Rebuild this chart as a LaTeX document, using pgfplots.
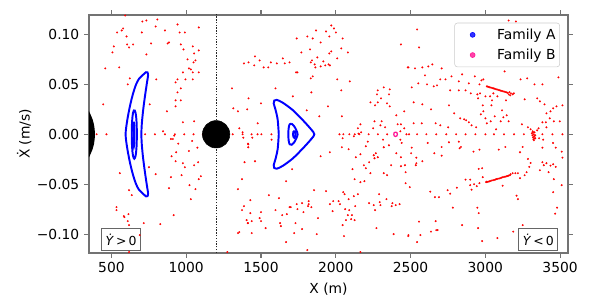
\documentclass[border=0pt]{standalone}
\usepackage{fontspec}
\setmainfont{DejaVu Sans}
\usepackage{pgfplots}
\pgfplotsset{compat=1.18}
\definecolor{famB}{RGB}{255,20,147}
\pgfplotstableread[row sep=\\]{
x y\\
592 0.119\\ 707 0.113\\ 734 0.114\\ 807 0.115\\ 942 0.110\\ 1084 0.107\\ 578 0.106\\ 569 0.104\\ 538 0.102\\ 703 0.102\\
796 0.108\\ 858 0.104\\ 956 0.102\\ 991 0.102\\ 601 0.098\\ 516 0.088\\ 605 0.090\\ 618 0.087\\ 645 0.090\\ 765 0.091\\
885 0.092\\ 876 0.091\\ 964 0.090\\ 1044 0.088\\ 982 0.085\\ 1084 0.084\\ 507 0.082\\ 734 0.080\\ 1009 0.075\\ 1053 0.081\\
1062 0.074\\ 1049 0.072\\ 459 0.066\\ 552 0.067\\ 1018 0.066\\ 1031 0.065\\ 978 0.062\\ 1044 0.062\\ 1084 0.062\\ 623 0.056\\
800 0.055\\ 942 0.055\\ 995 0.055\\ 1044 0.055\\ 609 0.050\\ 929 0.052\\ 964 0.046\\ 942 0.042\\ 445 0.030\\ 756 0.030\\
929 0.034\\ 964 0.034\\ 929 0.028\\ 871 0.023\\ 978 0.012\\ 1053 0.013\\ 845 0.003\\ 1306 0.046\\ 1386 0.071\\ 1417 0.072\\
1315 0.026\\ 1346 0.023\\ 1408 0.025\\ 1355 0.006\\ 1417 0.036\\ 1377 0.002\\
401 0\\ 467 0\\ 725 0\\ 791 0\\ 858 0\\ 924 0\\ 987 0\\ 1049 0\\ 1111 0\\ 1311 0\\ 1377 0\\
1437 0\\ 1477 0\\ 1503 0\\ 1570 0\\ 2025 0\\ 2051 0\\ 2091 0\\ 2127 0\\ 2158 0\\ 2220 0\\ 2282 0\\ 2344 0\\ 2473 0\\
2490 0\\ 2544 0\\ 2606 0\\ 2672 0\\ 2739 0\\ 2805 0\\ 2868 0\\ 2934 0\\ 3001 0\\ 3058 0\\ 3125 0\\ 3192 0\\ 3258 0\\ 3382 0\\ 3449 0\\ 3516 0\\
920 -0.0014\\ 898 -0.0047\\ 911 -0.0047\\ 1040 -0.0067\\ 947 -0.0094\\ 1075 -0.0134\\ 1018 -0.0167\\ 933 -0.018\\ 902 -0.022\\ 929 -0.027\\
978 -0.029\\ 991 -0.033\\ 1053 -0.031\\ 1080 -0.028\\ 751 -0.033\\ 556 -0.039\\ 796 -0.040\\ 898 -0.043\\ 969 -0.041\\ 1098 -0.042\\
1084 -0.045\\ 885 -0.054\\ 1022 -0.051\\ 1062 -0.055\\ 618 -0.056\\ 636 -0.061\\ 1031 -0.065\\ 534 -0.073\\ 534 -0.076\\ 916 -0.081\\
614 -0.080\\ 583 -0.082\\ 587 -0.083\\ 609 -0.087\\ 618 -0.091\\ 716 -0.089\\ 827 -0.090\\ 689 -0.101\\ 618 -0.118\\ 1390 -0.028\\
1373 -0.045\\ 1346 -0.055\\ 1386 -0.072\\ 1373 -0.076\\ 1404 -0.086\\ 1413 -0.089\\ 1355 -0.098\\ 1346 -0.099\\ 1413 -0.0094\\ 1382 -0.0034\\ 1275 -0.118\\
1442 -0.0034\\ 1415 -0.010\\ 1415 -0.013\\ 1571 -0.0054\\ 1460 -0.027\\ 1899 -0.022\\ 1961 -0.018\\ 1708 -0.035\\ 1668 -0.047\\ 2046 -0.004\\
2121 -0.002\\ 2152 0.0006\\ 2214 -0.0074\\ 2201 -0.012\\ 2086 -0.015\\ 2041 -0.013\\ 2134 -0.023\\ 2165 -0.020\\ 2254 -0.021\\ 2268 -0.019\\
2281 -0.023\\ 2259 -0.024\\ 2223 -0.028\\ 2188 -0.031\\ 2201 -0.034\\ 2112 -0.035\\ 2232 -0.039\\ 2316 -0.0054\\ 2356 -0.011\\ 2321 -0.013\\
2405 -0.019\\ 2436 -0.023\\ 2370 -0.031\\ 2436 -0.032\\ 2463 -0.031\\ 2321 -0.039\\ 2343 -0.041\\ 2432 -0.0054\\ 2441 -0.0087\\ 2126 -0.045\\
2165 -0.048\\ 2192 -0.047\\ 2467 -0.049\\ 1855 -0.056\\ 1935 -0.057\\ 2050 -0.058\\ 2059 -0.060\\ 2121 -0.062\\ 2148 -0.060\\ 2086 -0.065\\
2290 -0.060\\ 2339 -0.065\\ 2379 -0.069\\ 2374 -0.072\\ 2401 -0.071\\ 2427 -0.070\\ 2223 -0.069\\ 2254 -0.071\\ 2263 -0.076\\ 2294 -0.068\\
2299 -0.071\\ 1553 -0.061\\ 1620 -0.064\\ 1429 -0.066\\ 1597 -0.076\\ 1642 -0.081\\ 1673 -0.080\\ 1691 -0.073\\ 1699 -0.073\\ 1739 -0.070\\
1775 -0.069\\ 1744 -0.075\\ 1784 -0.078\\ 1819 -0.067\\ 1815 -0.072\\ 1837 -0.073\\ 1819 -0.070\\ 1961 -0.070\\ 1983 -0.067\\ 2019 -0.067\\
2028 -0.070\\ 1979 -0.077\\ 2063 -0.075\\ 2090 -0.076\\ 2130 -0.072\\ 2081 -0.081\\ 2108 -0.081\\ 2068 -0.086\\ 2103 -0.085\\ 2126 -0.086\\
2046 -0.091\\ 1881 -0.084\\ 1429 -0.079\\ 1500 -0.078\\ 1491 -0.084\\ 1500 -0.087\\ 1438 -0.087\\ 1411 -0.089\\ 1628 -0.089\\ 1633 -0.092\\
1731 -0.089\\ 1775 -0.095\\ 1531 -0.094\\ 1722 -0.099\\ 1873 -0.100\\ 1438 -0.099\\ 2055 -0.102\\ 1668 -0.108\\ 1810 -0.116\\ 2165 -0.118\\
2272 -0.094\\ 2387 -0.100\\ 2485 -0.102\\ 2467 -0.038\\
1970 0.109\\ 1988 0.106\\ 2001 0.102\\ 1868 0.104\\ 1935 0.103\\ 1957 0.098\\ 1810 0.098\\ 1846 0.096\\ 1739 0.096\\ 2046 0.096\\
1899 0.092\\ 1828 0.085\\ 1770 0.082\\ 1970 0.083\\ 1957 0.081\\ 2037 0.086\\ 2081 0.082\\ 1460 0.078\\ 1646 0.076\\ 1877 0.077\\
2010 0.076\\ 1491 0.074\\ 1566 0.072\\ 1606 0.071\\ 1659 0.071\\ 1691 0.072\\ 1841 0.074\\ 1833 0.072\\ 1917 0.073\\ 1859 0.070\\
1864 0.067\\ 1899 0.068\\ 1930 0.069\\ 1952 0.070\\ 1961 0.069\\ 1455 0.069\\ 1518 0.067\\ 1549 0.067\\ 1735 0.062\\ 1744 0.062\\
1833 0.056\\ 1846 0.058\\ 2010 0.055\\ 2094 0.053\\ 2436 0.090\\ 2481 0.067\\ 1597 0.046\\ 1837 0.042\\ 2037 0.044\\ 1713 0.038\\
1500 0.031\\ 1948 0.028\\ 1806 0.024\\ 1890 0.018\\ 2041 0.018\\ 1478 0.011\\ 2321 0.047\\ 2361 0.045\\ 2281 0.044\\ 2356 0.040\\
2276 0.040\\ 2303 0.036\\ 2281 0.032\\ 2232 0.032\\ 2263 0.029\\ 2343 0.031\\ 2361 0.028\\ 2405 0.019\\ 2458 0.023\\ 2259 0.013\\
2307 0.013\\ 2299 0.009\\ 2330 0.007\\ 2414 0.010\\ 2436 0.010\\ 2165 0.010\\ 2148 0.006\\ 2170 0.002\\ 2250 0.006\\ 2432 0.003\\ 2458 0.006\\
2544 0.105\\ 2557 0.087\\ 3156 0.114\\ 3205 0.113\\ 2486 0.067\\ 2530 0.066\\ 2579 0.067\\ 2619 0.068\\ 2646 0.070\\ 2708 0.066\\
2597 0.059\\ 2699 0.055\\ 2734 0.055\\ 2774 0.058\\ 2845 0.060\\ 2508 0.047\\ 2552 0.051\\ 2610 0.050\\ 2655 0.048\\ 2677 0.049\\
2823 0.053\\ 2890 0.051\\ 2930 0.058\\ 2974 0.054\\ 2987 0.055\\ 2961 0.050\\ 3129 0.063\\ 3236 0.055\\ 3280 0.056\\ 3329 0.050\\
3382 0.050\\ 3489 0.057\\ 2765 0.044\\ 2823 0.044\\ 2868 0.044\\ 2903 0.041\\ 2947 0.040\\ 2965 0.041\\ 3001 0.038\\ 3032 0.038\\
3054 0.041\\ 3081 0.038\\ 3138 0.034\\ 3183 0.040\\ 3191 0.041\\ 3045 0.034\\ 2952 0.036\\ 2521 0.032\\ 2579 0.030\\ 2637 0.025\\
2757 0.029\\ 2792 0.021\\ 2832 0.016\\ 2859 0.015\\ 2872 0.014\\ 2890 0.012\\ 2983 0.029\\ 2987 0.023\\ 2970 0.020\\ 3041 0.029\\
3001 0.016\\ 3010 0.011\\ 3036 0.013\\ 3063 0.018\\ 3103 0.013\\ 3121 0.017\\ 3156 0.013\\ 2521 0.011\\ 2575 0.011\\ 2668 0.011\\
2699 0.009\\ 2752 0.007\\ 2908 0.009\\ 2939 0.007\\ 3112 0.024\\ 3143 0.019\\ 3263 0.035\\ 3347 0.036\\ 3365 0.033\\ 3396 0.030\\
3409 0.021\\ 3436 0.023\\ 3454 0.026\\ 3476 0.028\\ 3516 0.029\\ 3431 0.016\\ 3382 0.012\\ 3405 0.012\\ 3458 0.013\\ 3498 0.013\\
3409 0.007\\ 3356 0.006\\ 3347 0.004\\ 3303 0.005\\ 3285 0.007\\ 3072 0.005\\ 3245 0.010\\
3010 0.0480\\ 3016 0.0478\\ 3022 0.0475\\ 3030 0.0471\\ 3038 0.0467\\ 3046 0.0463\\ 3054 0.0460\\ 3062 0.0457\\ 3070 0.0453\\ 3078 0.0449\\
3086 0.0445\\ 3094 0.0441\\ 3102 0.0438\\ 3110 0.0435\\ 3118 0.0431\\ 3126 0.0427\\ 3134 0.0424\\ 3142 0.0420\\ 3150 0.0416\\ 3157 0.0400\\
3162 0.0422\\ 3167 0.0390\\ 3172 0.0410\\
3005 -0.0480\\ 3012 -0.0477\\ 3020 -0.0474\\ 3028 -0.0471\\ 3036 -0.0467\\ 3044 -0.0463\\ 3052 -0.0460\\ 3060 -0.0457\\ 3068 -0.0453\\ 3076 -0.0449\\
3084 -0.0446\\ 3092 -0.0443\\ 3100 -0.0439\\ 3108 -0.0435\\ 3116 -0.0431\\ 3124 -0.0428\\ 3132 -0.0425\\ 3140 -0.0421\\ 3148 -0.0418\\ 3156 -0.0414\\ 3164 -0.0410\\
2508 -0.0134\\ 2504 -0.019\\ 2539 -0.0234\\ 2579 -0.027\\ 2539 -0.029\\ 2535 -0.031\\ 2615 -0.0087\\ 2708 -0.0127\\ 2659 -0.019\\ 2708 -0.0214\\
2757 -0.008\\ 2823 -0.0074\\ 2837 -0.0127\\ 2828 -0.014\\ 2921 -0.0174\\ 2961 -0.0154\\ 3090 -0.0154\\ 3134 -0.0127\\ 3232 -0.018\\ 3250 -0.0127\\
3285 -0.0247\\ 3303 -0.0287\\ 3294 -0.0327\\ 3334 -0.0040\\ 3360 -0.0040\\ 3387 -0.0054\\ 3382 -0.0134\\ 3453 -0.0087\\ 3471 -0.0134\\ 3511 -0.0174\\
3516 -0.0234\\ 3382 -0.028\\ 3391 -0.031\\ 3409 -0.029\\ 3436 -0.0314\\ 3454 -0.030\\ 3471 -0.0327\\ 3365 -0.036\\ 3423 -0.038\\ 3458 -0.045\\
2956 -0.0347\\ 2979 -0.034\\ 2983 -0.043\\ 2899 -0.0454\\ 2868 -0.0454\\ 2899 -0.051\\ 2908 -0.0555\\ 2925 -0.050\\ 2943 -0.052\\ 2961 -0.049\\
2810 -0.0535\\ 2748 -0.056\\ 2765 -0.0595\\ 2632 -0.0575\\ 2663 -0.063\\ 2690 -0.063\\ 2495 -0.053\\ 2783 -0.0735\\ 2947 -0.0735\\ 2956 -0.079\\
2845 -0.091\\ 2952 -0.094\\ 2557 -0.0875\\ 2668 -0.087\\ 2672 -0.096\\ 2681 -0.096\\ 2637 -0.0975\\ 2566 -0.101\\ 2486 -0.101\\ 2544 -0.108\\
2979 -0.107\\ 3081 -0.104\\ 3187 -0.0975\\ 3169 -0.040\\ 3183 -0.039\\ 3201 -0.039\\ 3218 -0.039\\ 3232 -0.044\\ 3263 -0.041\\ 3276 -0.038\\
3209 -0.0615\\ 3218 -0.065\\ 3250 -0.091\\ 3511 -0.051\\ 3454 -0.058\\ 3480 -0.0735\\ 3467 -0.0795\\ 3116 -0.0515\\ 3010 -0.0475\\
3311 0.001\\ 3315 -0.001\\ 3319 -0.003\\ 3324 0\\ 3327 -0.002\\ 3331 -0.004\\ 3319 0.002\\ 3334 -0.001\\ 3322 -0.005\\ 3317 0.003\\ 3325 -0.006\\ 3329 0.002\\
}\reddots
\begin{document}
\begin{tikzpicture}
\begin{axis}[
  at={(0,0)}, anchor=south west,
  scale only axis, width=346.2pt, height=172.0pt,
  xmin=350, xmax=3553, ymin=-0.1189, ymax=0.1195,
  xtick={500,1000,1500,2000,2500,3000,3500},
  xticklabels={500,1000,1500,2000,2500,3000,3500},
  ytick={-0.1,-0.05,0,0.05,0.1},
  yticklabels={−0.10,−0.05,0.00,0.05,0.10},
  tick align=outside, major tick length=3.5pt,
  axis line style={black!55, line width=1pt},
  tick style={black!55, line width=0.8pt},
  ticklabel style={font=\fontsize{10}{12}\selectfont, text=black},
  label style={font=\fontsize{10}{12}\selectfont},
  xlabel={X (m)}, ylabel={Ẋ (m/s)}, ylabel shift=-3pt,
  legend style={at={(1,1)}, anchor=north east, xshift=-5.8pt, yshift=-5.6pt,
    draw=black!20, fill=white, fill opacity=0.8, text opacity=1,
    rounded corners=2pt, inner xsep=1.5pt, inner ysep=2.5pt, row sep=2.5pt,
    nodes={inner sep=1.5pt},
    font=\fontsize{10}{12}\selectfont},
  legend cell align=left,
]
\addplot[red, only marks, mark=*, mark size=0.6pt, mark options={draw=red, fill=red, line width=0.2pt}, forget plot] table[x=x, y=y] {\reddots};
\addplot[black!85, line width=0.4pt, dash pattern=on 1pt off 1pt, forget plot] coordinates {(1200,-0.13) (1200,0.13)};
% Family A, left group
\addplot[blue, line width=1.4pt, smooth, tension=0.55, forget plot] coordinates {
(700,0) (703,0.010) (712,0.024) (726,0.040) (739,0.053) (745,0.0590) (741,0.0620) (731,0.0622) (718,0.0605) (700,0.0580) (684,0.0555) (665,0.0500) (645,0.0410) (625,0.0290) (608,0.0160) (598,0.0060) (595,0)
(598,-0.0060) (608,-0.0160) (625,-0.0290) (645,-0.0410) (665,-0.0500) (684,-0.0555) (700,-0.0580) (718,-0.0605) (731,-0.0622) (741,-0.0620) (745,-0.0590) (739,-0.053) (726,-0.040) (712,-0.024) (703,-0.010) (700,0)};
\addplot[blue, line width=1.4pt, smooth, tension=0.6, forget plot] coordinates {
(653,0.0245) (662,0.0212) (668,0.0123) (670,0) (668,-0.0123) (662,-0.0212) (653,-0.0245) (644,-0.0212) (638,-0.0123) (636,0) (638,0.0123) (644,0.0212) (653,0.0245)};
\addplot[blue, line width=1.4pt, smooth, tension=0.6, forget plot] coordinates {
(650,0.0125) (653,0.0090) (654,0) (653,-0.0090) (650,-0.0125) (647,-0.0090) (646,0) (647,0.0090) (650,0.0125)};
% Family A, right group
\addplot[blue, line width=1.4pt, smooth, tension=0.5, forget plot] coordinates {
(1619,0) (1612,0.0143) (1598,0.0243) (1585,0.0310) (1589,0.0338) (1605,0.0345) (1645,0.0317) (1712,0.0243) (1779,0.0143) (1835,0.0050) (1857,0)
(1835,-0.0050) (1779,-0.0143) (1712,-0.0243) (1645,-0.0317) (1605,-0.0345) (1589,-0.0338) (1585,-0.0310) (1598,-0.0243) (1612,-0.0143) (1619,0)};
\addplot[blue, line width=1.4pt, smooth, tension=0.6, forget plot] coordinates {
(1705,0.0105) (1720,0.0085) (1735,0.0045) (1745,0) (1735,-0.0045) (1720,-0.0085) (1705,-0.0105) (1692,-0.0100) (1685,-0.0060) (1683,0) (1685,0.0060) (1692,0.0100) (1705,0.0105)};
\addplot[blue, line width=1.4pt, smooth, tension=0.6, forget plot] coordinates {
(1723,0.0035) (1729,0.0025) (1732,0) (1729,-0.0025) (1723,-0.0035) (1717,-0.0025) (1714,0) (1717,0.0025) (1723,0.0035)};
% Family B
\addplot[famB, line width=0.9pt, smooth, tension=0.6, forget plot] coordinates {
(2400,0.0022) (2409,0.0016) (2412,0) (2409,-0.0016) (2400,-0.0022) (2391,-0.0016) (2388,0) (2391,0.0016) (2400,0.0022)};
% primaries
\addplot[fill=black, draw=none, forget plot] coordinates {
(350,0.0231) (360,0.0200) (374,0.0150) (383,0.0100) (388,0.0050) (390,0) (388,-0.0050) (383,-0.0100) (374,-0.0150) (360,-0.0200) (350,-0.0231) (350,0.0231)};
\addplot[only marks, mark=*, mark size=9.9pt, mark options={draw=none, fill=black}, forget plot] coordinates {(1200,0)};
\addlegendimage{blue, legend image code/.code={\path[draw=none, fill=none] (0pt,-3pt) rectangle (27.7pt,3pt); \fill[blue] (11.5pt,0pt) circle (1.8pt);}}
\addlegendentry{Family A}
\addlegendimage{famB, legend image code/.code={\path[draw=none, fill=none] (0pt,-3pt) rectangle (27.7pt,3pt); \fill[famB] (11.5pt,0pt) circle (1.8pt);}}
\addlegendentry{Family B}
\node[draw=black!60, line width=0.8pt, fill=white, minimum width=28.2pt, minimum height=16.2pt, inner sep=1pt, font=\fontsize{9}{11}\selectfont] at (rel axis cs:0.0668,0.0567) {\textit{Ẏ}\,>\,0};
\node[draw=black!60, line width=0.8pt, fill=white, minimum width=28.2pt, minimum height=16.2pt, inner sep=1pt, font=\fontsize{9}{11}\selectfont] at (rel axis cs:0.938,0.0559) {\textit{Ẏ}\,<\,0};
\end{axis}
\path[use as bounding box] (-64.32pt,-33.24pt) rectangle (367.88pt,182.84pt);
\end{tikzpicture}
\end{document}
